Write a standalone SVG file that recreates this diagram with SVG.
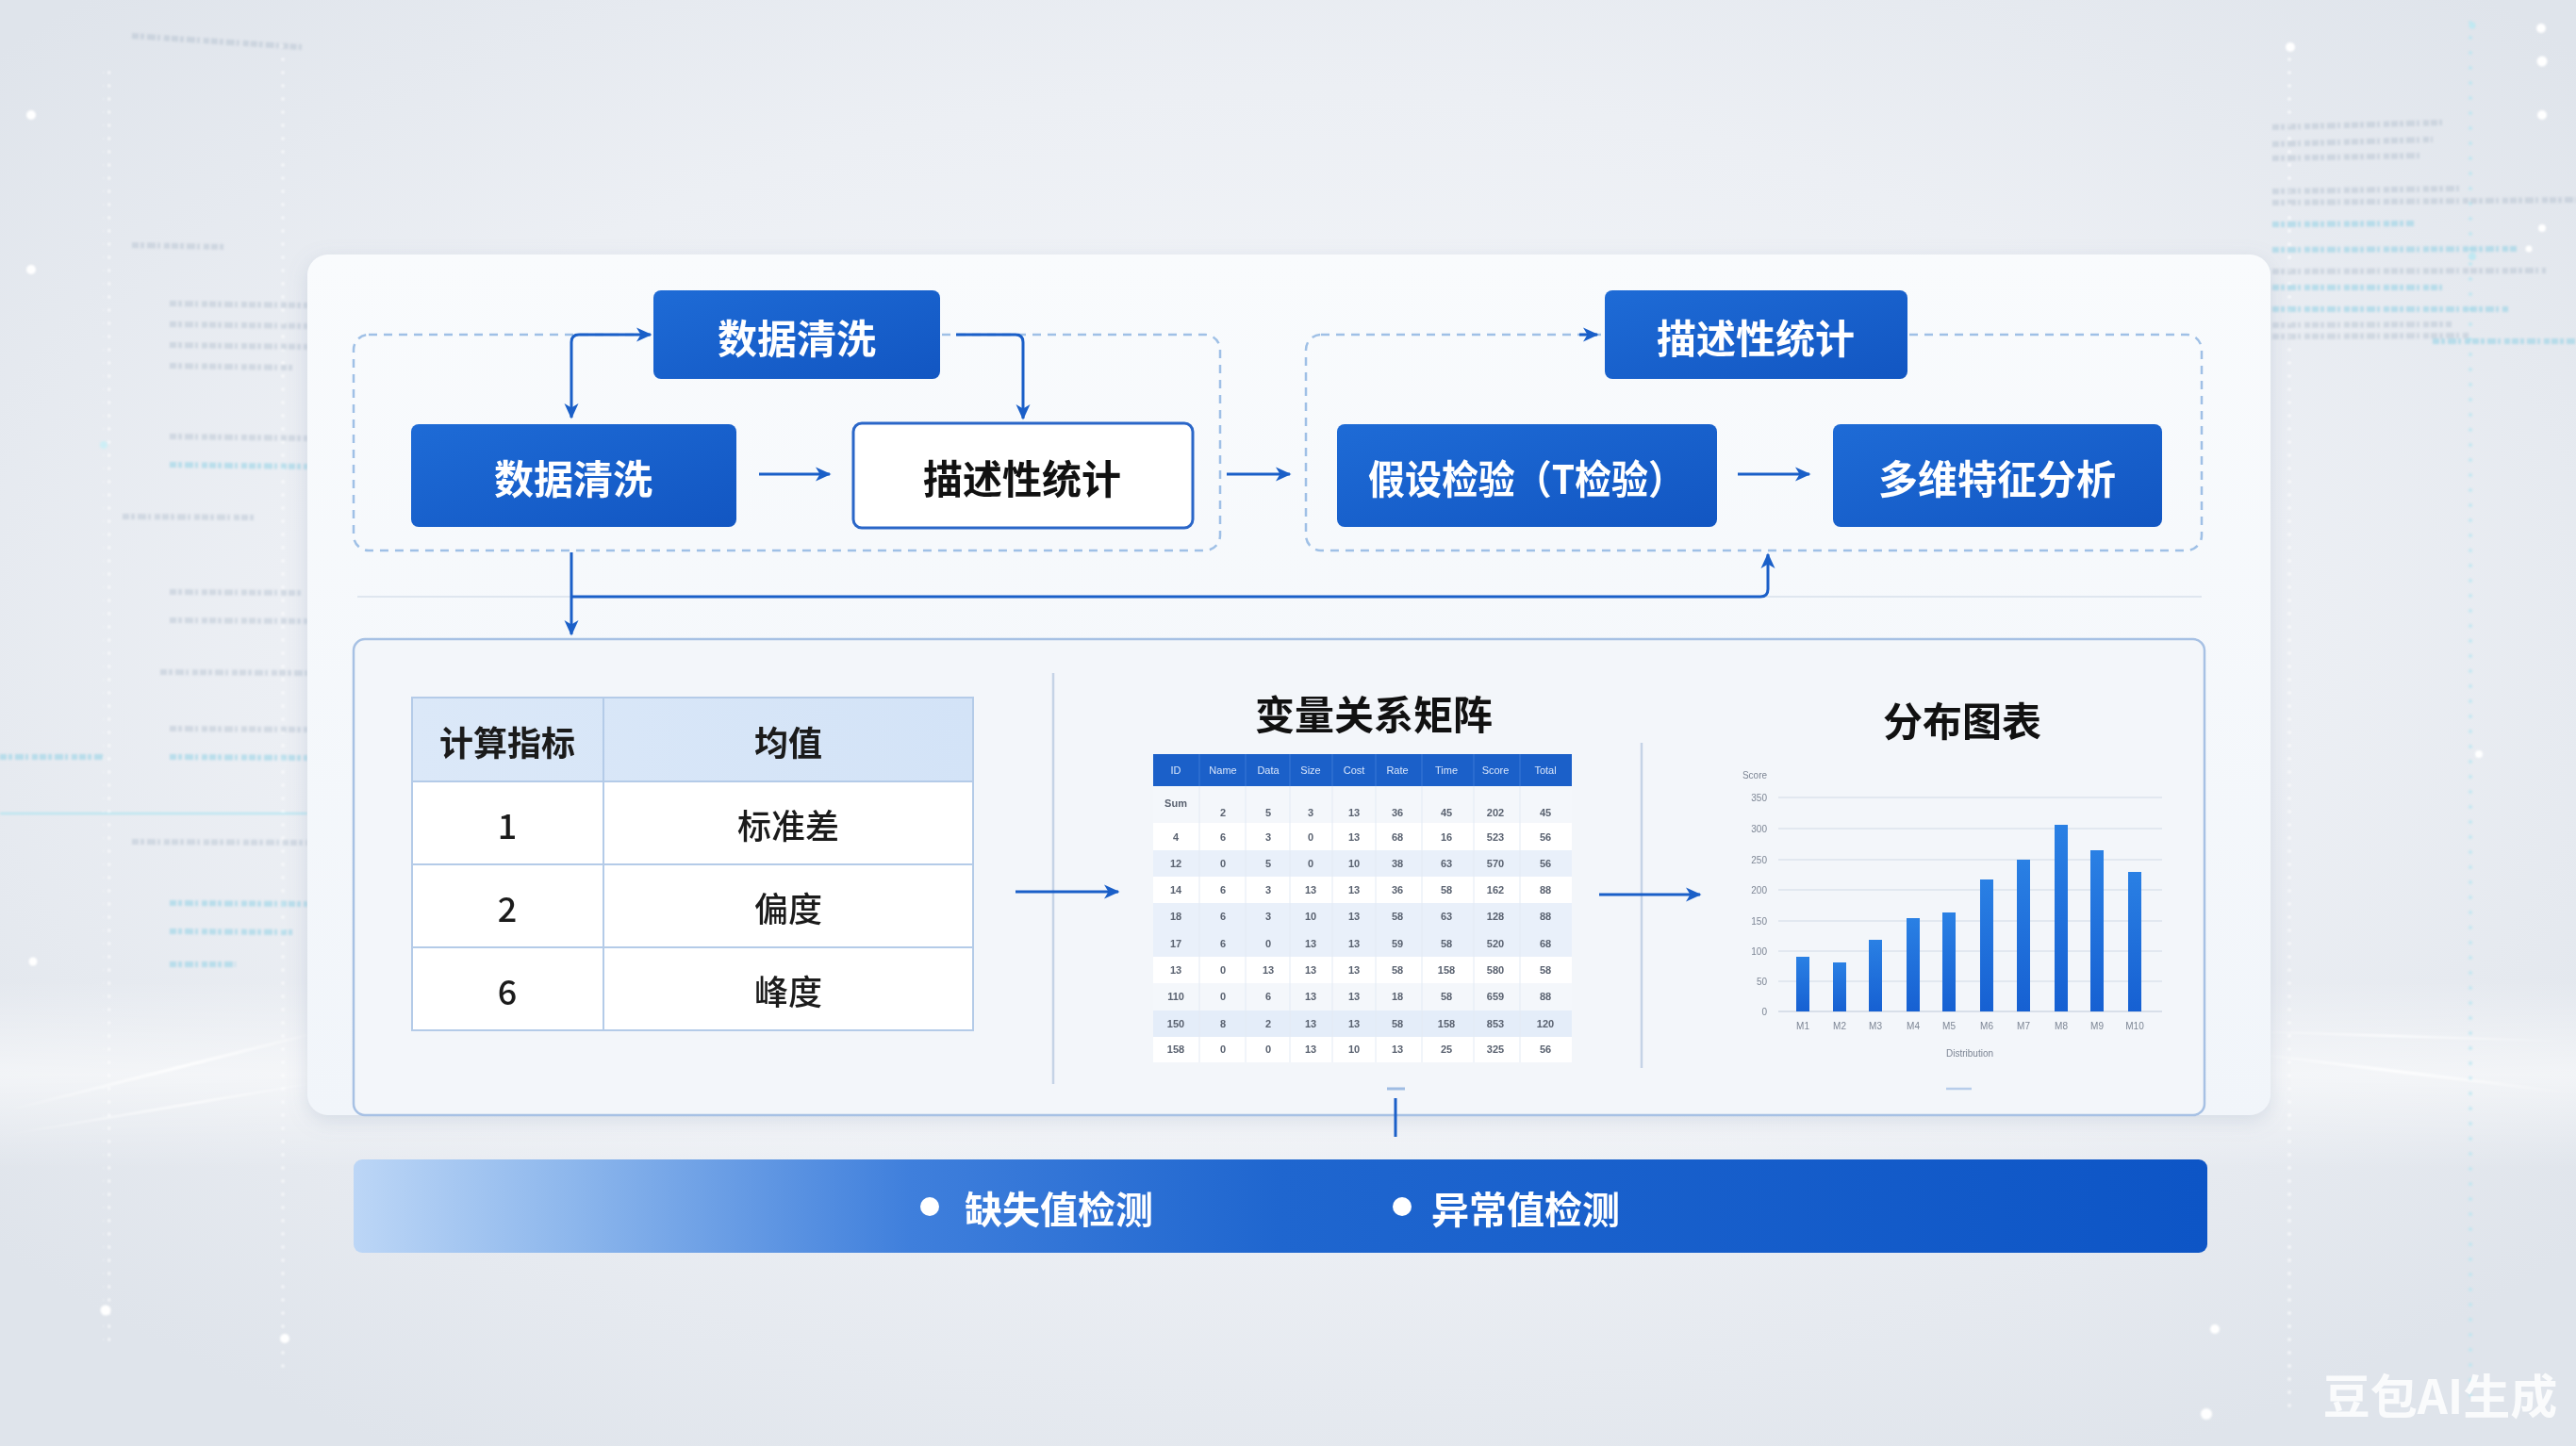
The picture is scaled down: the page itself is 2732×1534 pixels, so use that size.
<svg xmlns="http://www.w3.org/2000/svg" width="2732" height="1534" viewBox="0 0 2732 1534">
  <defs>
    <radialGradient id="bgGlow" cx="0.5" cy="0.45" r="0.65">
      <stop offset="0" stop-color="#f6f8fb"/>
      <stop offset="0.6" stop-color="#eceff4"/>
      <stop offset="1" stop-color="#dfe4eb"/>
    </radialGradient>
    <linearGradient id="nodeBlue" x1="0" y1="0" x2="1" y2="1">
      <stop offset="0" stop-color="#1e6bd6"/>
      <stop offset="1" stop-color="#1256c2"/>
    </linearGradient>
    <linearGradient id="barGrad" x1="0" y1="0" x2="0" y2="1">
      <stop offset="0" stop-color="#2a80e4"/>
      <stop offset="1" stop-color="#1660d2"/>
    </linearGradient>
    <linearGradient id="stripGrad" x1="0" y1="0" x2="1" y2="0">
      <stop offset="0" stop-color="#bcd6f6"/>
      <stop offset="0.12" stop-color="#8cb6ec"/>
      <stop offset="0.3" stop-color="#3f7fdc"/>
      <stop offset="0.5" stop-color="#1f66cf"/>
      <stop offset="1" stop-color="#0d55c6"/>
    </linearGradient>
    <linearGradient id="headGrad" x1="0" y1="0" x2="1" y2="0">
      <stop offset="0" stop-color="#dbe8f8"/>
      <stop offset="1" stop-color="#d3e3f7"/>
    </linearGradient>
    <linearGradient id="cardGrad" x1="0" y1="0" x2="0" y2="1">
      <stop offset="0" stop-color="#f9fbfd"/>
      <stop offset="1" stop-color="#f1f5fa"/>
    </linearGradient>
    <linearGradient id="streakL" x1="0" y1="0" x2="1" y2="0">
      <stop offset="0" stop-color="#ffffff" stop-opacity="0"/>
      <stop offset="0.6" stop-color="#ffffff" stop-opacity="0.9"/>
      <stop offset="1" stop-color="#ffffff" stop-opacity="0.2"/>
    </linearGradient>
    <linearGradient id="streakR" x1="1" y1="0" x2="0" y2="0">
      <stop offset="0" stop-color="#ffffff" stop-opacity="0"/>
      <stop offset="0.6" stop-color="#ffffff" stop-opacity="0.9"/>
      <stop offset="1" stop-color="#ffffff" stop-opacity="0.2"/>
    </linearGradient>
    <linearGradient id="hazeBand" x1="0" y1="0" x2="0" y2="1">
      <stop offset="0" stop-color="#ffffff" stop-opacity="0"/>
      <stop offset="0.5" stop-color="#ffffff" stop-opacity="0.55"/>
      <stop offset="1" stop-color="#ffffff" stop-opacity="0"/>
    </linearGradient>
    <filter id="shadow" x="-5%" y="-5%" width="110%" height="115%">
      <feDropShadow dx="0" dy="6" stdDeviation="10" flood-color="#8a9bb5" flood-opacity="0.25"/>
    </filter>
    <filter id="soft" x="-10%" y="-10%" width="120%" height="120%">
      <feGaussianBlur stdDeviation="1.2"/>
    </filter>
    <marker id="arrow" viewBox="0 0 12 12" refX="10" refY="6" markerWidth="6" markerHeight="6" orient="auto-start-reverse" markerUnits="strokeWidth">
      <path d="M0,1 L11,6 L0,11 L3,6 z" fill="#1a5fc8"/>
    </marker>
    <pattern id="dotsV" width="8" height="14" patternUnits="userSpaceOnUse">
      <circle cx="4" cy="7" r="1.8" fill="#ffffff"/>
    </pattern>
    <pattern id="dotsVc" width="8" height="16" patternUnits="userSpaceOnUse">
      <circle cx="4" cy="8" r="1.9" fill="#b6e6f1"/>
    </pattern>
  </defs>

  <style>
    .cjk { font-family: "Noto Sans CJK SC", "Noto Sans", sans-serif; }
    .node-txt { font-family: "Noto Sans CJK SC", "Noto Sans", sans-serif; font-weight: 700; font-size: 42px; fill: #ffffff; text-anchor: middle; dominant-baseline: central; }
    .node-txt-dark { fill: #111111; }
    .conn { fill: none; stroke: #1a5fc8; stroke-width: 3; }
    .dash-box { fill: none; stroke: #9fc0e6; stroke-width: 2.5; stroke-dasharray: 9 7; }
    .cell { fill: #ffffff; stroke: #b4cbe8; stroke-width: 2; }
    .tbl-txt { font-family: "Noto Sans CJK SC", "Noto Sans", sans-serif; font-size: 36px; font-weight: 500; fill: #1b1b1b; text-anchor: middle; dominant-baseline: central; }
    .tbl-head { font-weight: 700; }
    .title { font-family: "Noto Sans CJK SC", "Noto Sans", sans-serif; font-weight: 700; font-size: 42px; fill: #111111; text-anchor: middle; dominant-baseline: central; }
    .mx { font-family: "Liberation Sans", "Noto Sans", sans-serif; font-size: 11px; font-weight: 700; fill: #5a6270; text-anchor: middle; dominant-baseline: central; }
    .mxh { fill: #d9e6fb; font-weight: 400; }
    .ax { font-family: "Liberation Sans", "Noto Sans", sans-serif; font-size: 10px; fill: #7c8594; dominant-baseline: central; }
    .grid { stroke: #dde3ec; stroke-width: 1.5; }
    .divider { stroke: #c5d3e6; stroke-width: 2.5; }
    .strip-txt { font-family: "Noto Sans CJK SC", "Noto Sans", sans-serif; font-weight: 700; font-size: 40px; fill: #ffffff; dominant-baseline: central; }
    .row { stroke: #9aa9bd; stroke-width: 6; stroke-dasharray: 7 2 4 3 9 2 3 4 6 2; opacity: 0.3; }
    .row-c { stroke: #7fcde3; stroke-width: 6; stroke-dasharray: 7 2 4 3 9 2 3 4 6 2; opacity: 0.45; }
  </style>

  <!-- backdrop -->
  <rect x="0" y="0" width="2732" height="1534" fill="url(#bgGlow)"/>
  <rect x="0" y="1040" width="2732" height="200" fill="url(#hazeBand)"/>

  <!-- left side decoration: dotted rails, code rows, light streaks -->
  <g id="deco-left" filter="url(#soft)">
    <rect x="109" y="70" width="8" height="1360" fill="url(#dotsV)" opacity="0.8"/>
    <rect x="298" y="40" width="8" height="1420" fill="url(#dotsV)" opacity="0.7"/>
    <circle cx="33" cy="122" r="5" fill="#ffffff"/>
    <circle cx="33" cy="286" r="5" fill="#ffffff"/>
    <circle cx="110" cy="472" r="4" fill="#cdeef5"/>
    <circle cx="35" cy="1020" r="4.5" fill="#ffffff"/>
    <circle cx="112" cy="1390" r="5.5" fill="#ffffff"/>
    <circle cx="302" cy="1420" r="5" fill="#ffffff"/>
    <line x1="140" y1="38" x2="320" y2="50" class="row"/>
    <line x1="140" y1="260" x2="240" y2="262" class="row"/>
    <line x1="180" y1="322" x2="326" y2="324" class="row"/>
    <line x1="180" y1="344" x2="326" y2="346" class="row"/>
    <line x1="180" y1="366" x2="326" y2="368" class="row"/>
    <line x1="180" y1="388" x2="310" y2="390" class="row"/>
    <line x1="180" y1="463" x2="326" y2="465" class="row"/>
    <line x1="180" y1="493" x2="326" y2="495" class="row-c"/>
    <line x1="130" y1="548" x2="270" y2="549" class="row"/>
    <line x1="180" y1="628" x2="320" y2="629" class="row"/>
    <line x1="180" y1="658" x2="326" y2="659" class="row"/>
    <line x1="170" y1="713" x2="326" y2="714" class="row"/>
    <line x1="180" y1="773" x2="326" y2="774" class="row"/>
    <line x1="0" y1="803" x2="110" y2="803" class="row-c"/>
    <line x1="180" y1="803" x2="326" y2="804" class="row-c"/>
    <line x1="140" y1="893" x2="326" y2="894" class="row"/>
    <line x1="180" y1="958" x2="326" y2="959" class="row-c"/>
    <line x1="180" y1="988" x2="310" y2="989" class="row-c"/>
    <line x1="180" y1="1023" x2="250" y2="1023" class="row-c"/>
    <rect x="0" y="862" width="326" height="2" fill="#a8e3f0" opacity="0.8"/>
    <path d="M0,1180 L326,1098" stroke="url(#streakL)" stroke-width="3" fill="none"/>
    <path d="M0,1205 L326,1150" stroke="url(#streakL)" stroke-width="2" fill="none"/>
  </g>

  <!-- right side decoration -->
  <g id="deco-right" filter="url(#soft)">
    <rect x="2425" y="40" width="8" height="1460" fill="url(#dotsV)" opacity="0.8"/>
    <rect x="2618" y="20" width="8" height="1470" fill="url(#dotsVc)" opacity="0.8"/>
    <circle cx="2429" cy="50" r="5" fill="#ffffff"/>
    <circle cx="2695" cy="30" r="5" fill="#ffffff"/>
    <circle cx="2696" cy="65" r="5.5" fill="#ffffff"/>
    <circle cx="2696" cy="122" r="5" fill="#ffffff"/>
    <circle cx="2696" cy="242" r="4" fill="#ffffff"/>
    <circle cx="2622" cy="27" r="3.5" fill="#bfe8f2"/>
    <circle cx="2622" cy="272" r="4" fill="#bfe8f2"/>
    <circle cx="2682" cy="264" r="3.5" fill="#ffffff"/>
    <circle cx="2629" cy="800" r="4" fill="#ffffff"/>
    <circle cx="2349" cy="1410" r="5" fill="#ffffff"/>
    <circle cx="2340" cy="1500" r="6" fill="#ffffff"/>
    <line x1="2410" y1="135" x2="2590" y2="130" class="row"/>
    <line x1="2410" y1="153" x2="2580" y2="148" class="row"/>
    <line x1="2410" y1="168" x2="2570" y2="165" class="row"/>
    <line x1="2410" y1="203" x2="2610" y2="200" class="row"/>
    <line x1="2410" y1="215" x2="2732" y2="212" class="row"/>
    <line x1="2410" y1="238" x2="2560" y2="237" class="row-c"/>
    <line x1="2410" y1="265" x2="2670" y2="264" class="row-c"/>
    <line x1="2410" y1="288" x2="2700" y2="287" class="row"/>
    <line x1="2410" y1="305" x2="2590" y2="305" class="row-c"/>
    <line x1="2410" y1="328" x2="2660" y2="328" class="row-c"/>
    <line x1="2410" y1="345" x2="2600" y2="344" class="row"/>
    <line x1="2410" y1="357" x2="2620" y2="356" class="row"/>
    <line x1="2580" y1="362" x2="2732" y2="362" class="row-c"/>
    <path d="M2408,1120 L2732,1160" stroke="url(#streakR)" stroke-width="3" fill="none"/>
    <path d="M2408,1095 L2732,1105" stroke="url(#streakR)" stroke-width="2" fill="none"/>
  </g>

  <!-- main card -->
  <rect id="card" x="326" y="270" width="2082" height="913" rx="22" fill="url(#cardGrad)" filter="url(#shadow)"/>

  <!-- stage outlines -->
  <g id="stage-groups">
    <rect id="group-cleaning" x="375" y="355" width="919" height="229" rx="16" class="dash-box"/>
    <rect id="group-analysis" x="1385" y="355" width="950" height="229" rx="16" class="dash-box"/>
    <line x1="379" y1="633" x2="2335" y2="633" stroke="#dfe6ef" stroke-width="2"/>
  </g>

  <!-- lower results panel -->
  <g id="results-panel">
    <rect x="375" y="678" width="1963" height="505" rx="12" fill="#f3f6fa" stroke="#a7c1e4" stroke-width="2.5"/>
    <line x1="1117" y1="714" x2="1117" y2="1150" class="divider"/>
    <line x1="1741" y1="788" x2="1741" y2="1133" class="divider"/>
    <line x1="1471" y1="1155" x2="1490" y2="1155" stroke="#9fbce3" stroke-width="3"/>
    <line x1="2064" y1="1155" x2="2091" y2="1155" stroke="#b7cdea" stroke-width="2.5"/>
  </g>

  <!-- connectors -->
  <g id="connectors">
    <path class="conn" d="M606,443 L606,363 Q606,355 614,355 L690,355" marker-start="url(#arrow)" marker-end="url(#arrow)"/>
    <path class="conn" d="M1014,355 L1077,355 Q1085,355 1085,363 L1085,444" marker-end="url(#arrow)"/>
    <path class="conn" d="M805,503 L880,503" marker-end="url(#arrow)"/>
    <path class="conn" d="M1301,503 L1368,503" marker-end="url(#arrow)"/>
    <path class="conn" d="M1675,355 L1694,355" marker-end="url(#arrow)"/>
    <path class="conn" d="M1843,503 L1919,503" marker-end="url(#arrow)"/>
    <path class="conn" d="M606,586 L606,673" marker-end="url(#arrow)"/>
    <path class="conn" d="M606,633 L1867,633 Q1875,633 1875,625 L1875,588" marker-end="url(#arrow)"/>
    <path class="conn" d="M1077,946 L1186,946" marker-end="url(#arrow)"/>
    <path class="conn" d="M1696,949 L1803,949" marker-end="url(#arrow)"/>
    <path class="conn" d="M1480,1165 L1480,1206"/>
  </g>

  <!-- flow nodes -->
  <g id="node-clean-top">
    <rect x="693" y="308" width="304" height="94" rx="8" fill="url(#nodeBlue)"/>
    <text x="845" y="356" class="node-txt">数据清洗</text>
  </g>
  <g id="node-clean">
    <rect x="436" y="450" width="345" height="109" rx="8" fill="url(#nodeBlue)"/>
    <text x="608" y="505" class="node-txt">数据清洗</text>
  </g>
  <g id="node-describe">
    <rect x="905" y="449" width="360" height="111" rx="9" fill="#ffffff" stroke="#2a66c8" stroke-width="3"/>
    <text x="1084" y="505" class="node-txt node-txt-dark">描述性统计</text>
  </g>
  <g id="node-describe-top">
    <rect x="1702" y="308" width="321" height="94" rx="8" fill="url(#nodeBlue)"/>
    <text x="1862" y="356" class="node-txt">描述性统计</text>
  </g>
  <g id="node-ttest">
    <rect x="1418" y="450" width="403" height="109" rx="8" fill="url(#nodeBlue)"/>
    <text x="1619" y="505" class="node-txt" font-size="41" textLength="336" lengthAdjust="spacingAndGlyphs">假设检验（T检验）</text>
  </g>
  <g id="node-multi">
    <rect x="1944" y="450" width="349" height="109" rx="8" fill="url(#nodeBlue)"/>
    <text x="2118" y="505" class="node-txt">多维特征分析</text>
  </g>

  <!-- indicator table -->
  <g id="indicator-table">
    <rect x="437" y="740" width="595" height="89" fill="url(#headGrad)" stroke="#b4cbe8" stroke-width="2"/>
    <line x1="640" y1="740" x2="640" y2="829" stroke="#b4cbe8" stroke-width="2"/>
    <rect x="437" y="829" width="203" height="88" class="cell"/>
    <rect x="640" y="829" width="392" height="88" class="cell"/>
    <rect x="437" y="917" width="203" height="88" class="cell"/>
    <rect x="640" y="917" width="392" height="88" class="cell"/>
    <rect x="437" y="1005" width="203" height="88" class="cell"/>
    <rect x="640" y="1005" width="392" height="88" class="cell"/>
    <text x="538" y="786" class="tbl-txt tbl-head" font-size="34">计算指标</text>
    <text x="836" y="786" class="tbl-txt tbl-head">均值</text>
    <text x="538" y="874" class="tbl-txt">1</text>
    <text x="836" y="874" class="tbl-txt">标准差</text>
    <text x="538" y="962" class="tbl-txt">2</text>
    <text x="836" y="962" class="tbl-txt">偏度</text>
    <text x="538" y="1050" class="tbl-txt">6</text>
    <text x="836" y="1050" class="tbl-txt">峰度</text>
  </g>

  <!-- correlation matrix -->
  <g id="matrix">
    <text x="1457" y="755" class="title">变量关系矩阵</text>
    <rect x="1223" y="800" width="444" height="34" fill="#1b60c9"/>
    <rect x="1223" y="834" width="444" height="39" fill="#f4f7fb"/>
    <rect x="1223" y="873" width="444" height="29" fill="#ffffff"/>
    <rect x="1223" y="902" width="444" height="28" fill="#e9f0fa"/>
    <rect x="1223" y="930" width="444" height="28" fill="#ffffff"/>
    <rect x="1223" y="958" width="444" height="29" fill="#e9f0fa"/>
    <rect x="1223" y="987" width="444" height="28" fill="#e9f0fa"/>
    <rect x="1223" y="1015" width="444" height="28" fill="#ffffff"/>
    <rect x="1223" y="1043" width="444" height="29" fill="#f4f7fb"/>
    <rect x="1223" y="1072" width="444" height="28" fill="#e4edf9"/>
    <rect x="1223" y="1100" width="444" height="27" fill="#ffffff"/>
    <g stroke="#e3eaf4" stroke-width="1">
      <line x1="1272" y1="834" x2="1272" y2="1127"/>
      <line x1="1321" y1="834" x2="1321" y2="1127"/>
      <line x1="1368" y1="834" x2="1368" y2="1127"/>
      <line x1="1413" y1="834" x2="1413" y2="1127"/>
      <line x1="1459" y1="834" x2="1459" y2="1127"/>
      <line x1="1508" y1="834" x2="1508" y2="1127"/>
      <line x1="1563" y1="834" x2="1563" y2="1127"/>
      <line x1="1612" y1="834" x2="1612" y2="1127"/>
    </g>
    <g stroke="#3a78d6" stroke-width="1">
      <line x1="1272" y1="800" x2="1272" y2="834"/>
      <line x1="1321" y1="800" x2="1321" y2="834"/>
      <line x1="1368" y1="800" x2="1368" y2="834"/>
      <line x1="1413" y1="800" x2="1413" y2="834"/>
      <line x1="1459" y1="800" x2="1459" y2="834"/>
      <line x1="1508" y1="800" x2="1508" y2="834"/>
      <line x1="1563" y1="800" x2="1563" y2="834"/>
      <line x1="1612" y1="800" x2="1612" y2="834"/>
    </g>
    <g>
      <text x="1247" y="817" class="mx mxh">ID</text>
      <text x="1297" y="817" class="mx mxh">Name</text>
      <text x="1345" y="817" class="mx mxh">Data</text>
      <text x="1390" y="817" class="mx mxh">Size</text>
      <text x="1436" y="817" class="mx mxh">Cost</text>
      <text x="1482" y="817" class="mx mxh">Rate</text>
      <text x="1534" y="817" class="mx mxh">Time</text>
      <text x="1586" y="817" class="mx mxh">Score</text>
      <text x="1639" y="817" class="mx mxh">Total</text>
    </g>
    <g>
      <text x="1247" y="852" class="mx" font-weight="400">Sum</text>
      <text x="1297" y="862" class="mx">2</text><text x="1345" y="862" class="mx">5</text><text x="1390" y="862" class="mx">3</text><text x="1436" y="862" class="mx">13</text><text x="1482" y="862" class="mx">36</text><text x="1534" y="862" class="mx">45</text><text x="1586" y="862" class="mx">202</text><text x="1639" y="862" class="mx">45</text>
      <text x="1247" y="888" class="mx">4</text><text x="1297" y="888" class="mx">6</text><text x="1345" y="888" class="mx">3</text><text x="1390" y="888" class="mx">0</text><text x="1436" y="888" class="mx">13</text><text x="1482" y="888" class="mx">68</text><text x="1534" y="888" class="mx">16</text><text x="1586" y="888" class="mx">523</text><text x="1639" y="888" class="mx">56</text>
      <text x="1247" y="916" class="mx">12</text><text x="1297" y="916" class="mx">0</text><text x="1345" y="916" class="mx">5</text><text x="1390" y="916" class="mx">0</text><text x="1436" y="916" class="mx">10</text><text x="1482" y="916" class="mx">38</text><text x="1534" y="916" class="mx">63</text><text x="1586" y="916" class="mx">570</text><text x="1639" y="916" class="mx">56</text>
      <text x="1247" y="944" class="mx">14</text><text x="1297" y="944" class="mx">6</text><text x="1345" y="944" class="mx">3</text><text x="1390" y="944" class="mx">13</text><text x="1436" y="944" class="mx">13</text><text x="1482" y="944" class="mx">36</text><text x="1534" y="944" class="mx">58</text><text x="1586" y="944" class="mx">162</text><text x="1639" y="944" class="mx">88</text>
      <text x="1247" y="972" class="mx">18</text><text x="1297" y="972" class="mx">6</text><text x="1345" y="972" class="mx">3</text><text x="1390" y="972" class="mx">10</text><text x="1436" y="972" class="mx">13</text><text x="1482" y="972" class="mx">58</text><text x="1534" y="972" class="mx">63</text><text x="1586" y="972" class="mx">128</text><text x="1639" y="972" class="mx">88</text>
      <text x="1247" y="1001" class="mx">17</text><text x="1297" y="1001" class="mx">6</text><text x="1345" y="1001" class="mx">0</text><text x="1390" y="1001" class="mx">13</text><text x="1436" y="1001" class="mx">13</text><text x="1482" y="1001" class="mx">59</text><text x="1534" y="1001" class="mx">58</text><text x="1586" y="1001" class="mx">520</text><text x="1639" y="1001" class="mx">68</text>
      <text x="1247" y="1029" class="mx">13</text><text x="1297" y="1029" class="mx">0</text><text x="1345" y="1029" class="mx">13</text><text x="1390" y="1029" class="mx">13</text><text x="1436" y="1029" class="mx">13</text><text x="1482" y="1029" class="mx">58</text><text x="1534" y="1029" class="mx">158</text><text x="1586" y="1029" class="mx">580</text><text x="1639" y="1029" class="mx">58</text>
      <text x="1247" y="1057" class="mx">110</text><text x="1297" y="1057" class="mx">0</text><text x="1345" y="1057" class="mx">6</text><text x="1390" y="1057" class="mx">13</text><text x="1436" y="1057" class="mx">13</text><text x="1482" y="1057" class="mx">18</text><text x="1534" y="1057" class="mx">58</text><text x="1586" y="1057" class="mx">659</text><text x="1639" y="1057" class="mx">88</text>
      <text x="1247" y="1086" class="mx">150</text><text x="1297" y="1086" class="mx">8</text><text x="1345" y="1086" class="mx">2</text><text x="1390" y="1086" class="mx">13</text><text x="1436" y="1086" class="mx">13</text><text x="1482" y="1086" class="mx">58</text><text x="1534" y="1086" class="mx">158</text><text x="1586" y="1086" class="mx">853</text><text x="1639" y="1086" class="mx">120</text>
      <text x="1247" y="1113" class="mx">158</text><text x="1297" y="1113" class="mx">0</text><text x="1345" y="1113" class="mx">0</text><text x="1390" y="1113" class="mx">13</text><text x="1436" y="1113" class="mx">10</text><text x="1482" y="1113" class="mx">13</text><text x="1534" y="1113" class="mx">25</text><text x="1586" y="1113" class="mx">325</text><text x="1639" y="1113" class="mx">56</text>
    </g>
  </g>

  <!-- distribution chart -->
  <g id="distribution-chart">
    <text x="2081" y="762" class="title">分布图表</text>
    <text x="1861" y="822" class="ax" text-anchor="middle">Score</text>
    <g class="grid">
      <line x1="1886" y1="846" x2="2293" y2="846"/>
      <line x1="1886" y1="879" x2="2293" y2="879"/>
      <line x1="1886" y1="912" x2="2293" y2="912"/>
      <line x1="1886" y1="944" x2="2293" y2="944"/>
      <line x1="1886" y1="977" x2="2293" y2="977"/>
      <line x1="1886" y1="1009" x2="2293" y2="1009"/>
      <line x1="1886" y1="1041" x2="2293" y2="1041"/>
      <line x1="1886" y1="1073" x2="2293" y2="1073" stroke="#cfd7e3"/>
    </g>
    <g>
      <text x="1874" y="846" class="ax" text-anchor="end">350</text>
      <text x="1874" y="879" class="ax" text-anchor="end">300</text>
      <text x="1874" y="912" class="ax" text-anchor="end">250</text>
      <text x="1874" y="944" class="ax" text-anchor="end">200</text>
      <text x="1874" y="977" class="ax" text-anchor="end">150</text>
      <text x="1874" y="1009" class="ax" text-anchor="end">100</text>
      <text x="1874" y="1041" class="ax" text-anchor="end">50</text>
      <text x="1874" y="1073" class="ax" text-anchor="end">0</text>
    </g>
    <g fill="url(#barGrad)">
      <rect x="1905" y="1015" width="14" height="58"/>
      <rect x="1944" y="1021" width="14" height="52"/>
      <rect x="1982" y="997" width="14" height="76"/>
      <rect x="2022" y="974" width="14" height="99"/>
      <rect x="2060" y="968" width="14" height="105"/>
      <rect x="2100" y="933" width="14" height="140"/>
      <rect x="2139" y="912" width="14" height="161"/>
      <rect x="2179" y="875" width="14" height="198"/>
      <rect x="2217" y="902" width="14" height="171"/>
      <rect x="2257" y="925" width="14" height="148"/>
    </g>
    <g>
      <text x="1912" y="1088" class="ax" text-anchor="middle">M1</text>
      <text x="1951" y="1088" class="ax" text-anchor="middle">M2</text>
      <text x="1989" y="1088" class="ax" text-anchor="middle">M3</text>
      <text x="2029" y="1088" class="ax" text-anchor="middle">M4</text>
      <text x="2067" y="1088" class="ax" text-anchor="middle">M5</text>
      <text x="2107" y="1088" class="ax" text-anchor="middle">M6</text>
      <text x="2146" y="1088" class="ax" text-anchor="middle">M7</text>
      <text x="2186" y="1088" class="ax" text-anchor="middle">M8</text>
      <text x="2224" y="1088" class="ax" text-anchor="middle">M9</text>
      <text x="2264" y="1088" class="ax" text-anchor="middle">M10</text>
      <text x="2089" y="1117" class="ax" text-anchor="middle">Distribution</text>
    </g>
  </g>

  <!-- quality-check strip -->
  <g id="quality-checks">
    <rect x="375" y="1230" width="1966" height="99" rx="9" fill="url(#stripGrad)"/>
    <circle cx="986" cy="1280" r="10" fill="#ffffff"/>
    <text x="1023" y="1281" class="strip-txt">缺失值检测</text>
    <circle cx="1487" cy="1280" r="10" fill="#ffffff"/>
    <text x="1518" y="1281" class="strip-txt">异常值检测</text>
  </g>

  <!-- watermark -->
  <text x="2588" y="1478" class="cjk" font-size="50" font-weight="700" fill="#ffffff" fill-opacity="0.85" text-anchor="middle" dominant-baseline="central">豆包AI生成</text>
</svg>
